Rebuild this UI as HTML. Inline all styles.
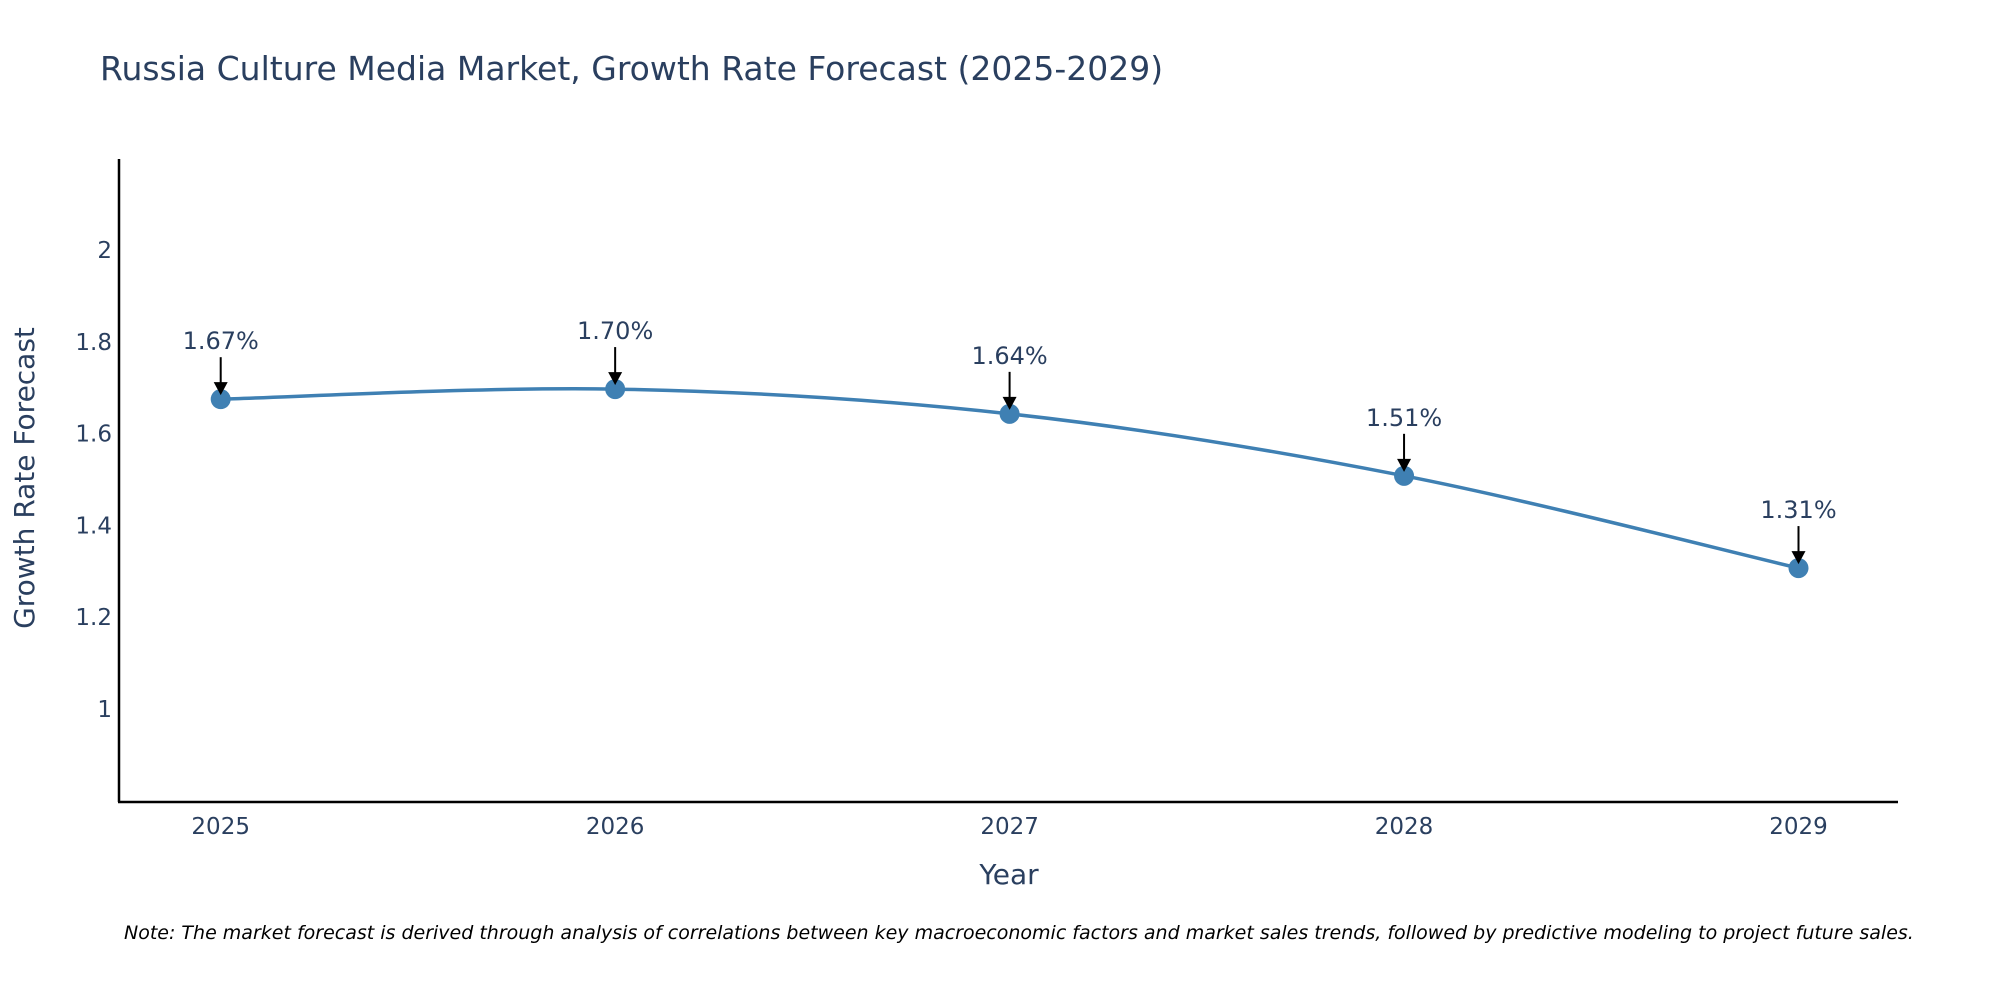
<!DOCTYPE html>
<html><head><meta charset="utf-8"><style>
body{margin:0;background:#fff;}
svg{display:block;font-family:"DejaVu Sans","Liberation Sans",sans-serif;}
</style></head><body>
<svg id="chart" width="2000" height="1000" viewBox="0 0 2000 1000">
<text x="100" y="80" font-size="33" fill="#2a3f5f">Russia Culture Media Market, Growth Rate Forecast (2025-2029)</text>
<g id="yticks"></g>
<g id="xticks"></g>
<line x1="119" y1="159" x2="119" y2="802" stroke="#000" stroke-width="2.5"/>
<line x1="118" y1="802" x2="1898" y2="802" stroke="#000" stroke-width="2.5"/>
<text x="34" y="478" font-size="28" fill="#2a3f5f" text-anchor="middle" transform="rotate(-90 34 478)">Growth Rate Forecast</text>
<text x="1009" y="884" font-size="28" fill="#2a3f5f" text-anchor="middle">Year</text>
<path id="line" fill="none" stroke="#3f80b3" stroke-width="3.5"/>
<g id="points"></g>
<g id="annots"></g>
<text x="124" y="939" font-size="19" font-style="italic" fill="#000">Note: The market forecast is derived through analysis of correlations between key macroeconomic factors and market sales trends, followed by predictive modeling to project future sales.</text>
</svg>
<script>
const years = [2025, 2026, 2027, 2028, 2029];
const values = [1.675, 1.697, 1.643, 1.508, 1.307];
const labels = ["1.67%", "1.70%", "1.64%", "1.51%", "1.31%"];
const yTickVals = [1, 1.2, 1.4, 1.6, 1.8, 2];
const yTickLabels = ["1", "1.2", "1.4", "1.6", "1.8", "2"];

const NS = "http://www.w3.org/2000/svg";
function xs(v){ return 220.7 + (v - 2025) * (1798.5 - 220.7) / 4; }
function ys(v){ return 709 - (v - 1) * (709 - 250) / 1; }
function mk(tag, attrs, parent){ const e = document.createElementNS(NS, tag); for (const k in attrs) e.setAttribute(k, attrs[k]); parent.appendChild(e); return e; }

const yt = document.getElementById('yticks');
yTickVals.forEach((v, i) => {
  const t = mk('text', {x: 112, y: ys(v) + 8, 'font-size': 23, fill: '#2a3f5f', 'text-anchor': 'end'}, yt);
  
  
  t.textContent = yTickLabels[i];
});
const xt = document.getElementById('xticks');
years.forEach(y => {
  const t = mk('text', {x: xs(y), y: 834, 'font-size': 23, fill: '#2a3f5f', 'text-anchor': 'middle'}, xt);
  
  
  t.textContent = String(y);
});

const pts = years.map((y, i) => [xs(y), ys(values[i])]);
let d = `M${pts[0][0]},${pts[0][1]}`;
for (let i = 0; i < pts.length - 1; i++) {
  const p0 = pts[Math.max(0, i - 1)], p1 = pts[i], p2 = pts[i + 1], p3 = pts[Math.min(pts.length - 1, i + 2)];
  const c1 = [p1[0] + (p2[0] - p0[0]) / 6, p1[1] + (p2[1] - p0[1]) / 6];
  const c2 = [p2[0] - (p3[0] - p1[0]) / 6, p2[1] - (p3[1] - p1[1]) / 6];
  d += ` C${c1[0]},${c1[1]} ${c2[0]},${c2[1]} ${p2[0]},${p2[1]}`;
}
document.getElementById('line').setAttribute('d', d);

const pg = document.getElementById('points');
const ag = document.getElementById('annots');
pts.forEach((p, i) => {
  const c = mk('circle', {cx: p[0], cy: p[1], r: 10, fill: '#3f80b3'}, pg);
  
  
  const l = mk('line', {x1: p[0], y1: p[1] - 42, x2: p[0], y2: p[1] - 14, stroke: '#000', 'stroke-width': 2}, ag);
  
  
  const h = mk('path', {d: `M${p[0]-7},${p[1]-17} L${p[0]+7},${p[1]-17} L${p[0]},${p[1]-4} Z`, fill: '#000'}, ag);
  
  
  const t = mk('text', {x: p[0], y: p[1] - 50, 'font-size': 24, fill: '#2a3f5f', 'text-anchor': 'middle'}, ag);
  
  
  t.textContent = labels[i];
});
</script>
</body></html>
